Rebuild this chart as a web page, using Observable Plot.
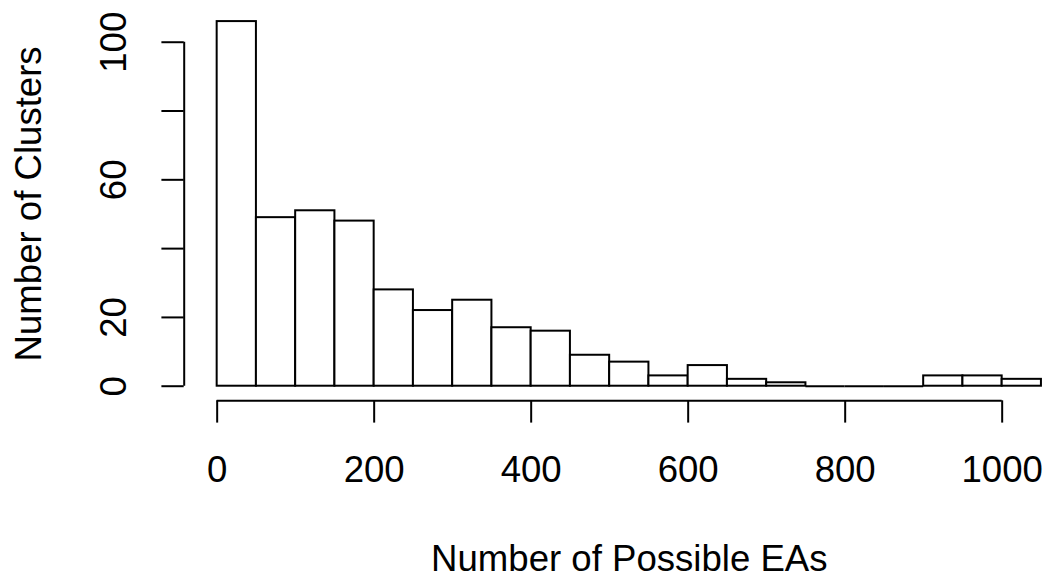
<!DOCTYPE html>
<html><head><meta charset="utf-8">
<script src="https://cdn.jsdelivr.net/npm/d3@7"></script>
<script src="https://cdn.jsdelivr.net/npm/@observablehq/plot@0.6"></script>
<style>
body{margin:0;background:#fff;}
#chart svg{display:block;}
</style>
</head><body><div id="chart"></div>
<script>
// Histogram bins (left and right edges) and counts
const binLo = [0,50,100,150,200,250,300,350,400,450,500,550,600,650,700,750,800,850,900,950,1000];
const binHi = [50,100,150,200,250,300,350,400,450,500,550,600,650,700,750,800,850,900,950,1000,1050];
const counts = [106,49,51,48,28,22,25,17,16,9,7,3,6,2,1,0,0,0,3,3,2];

const xTicks = [0,200,400,600,800,1000];
const xTickLabels = ["0","200","400","600","800","1000"];
const yTicks = [0,20,40,60,80,100];
const yTickLabels = ["0","20","","60","","100"];

const xTitle = "Number of Possible EAs";
const yTitle = "Number of Clusters";

const bins = binLo.map((lo, i) => ({lo, hi: binHi[i], n: counts[i]}));
const zeroBins = bins.filter(d => d.n === 0);

// R-style 4% axis extension
const xMin = d3.min(binLo), xMax = d3.max(binHi);
const yMax = d3.max(counts);
const xPad = 0.04 * (xMax - xMin), yPad = 0.04 * yMax;
const xLo = xMin - xPad, xHi = xMax + xPad;
const yLo = -yPad, yHi = yMax + yPad;

const FONT = "'Liberation Sans', Arial, Helvetica, sans-serif";
const FS = 36.6;
const TICK = 22.3;
const LW = 2;

const chart = Plot.plot({
  width: 1047,
  height: 577,
  marginLeft: 183.7,
  marginRight: 0,
  marginTop: 6.5,
  marginBottom: 176.7,
  style: {fontFamily: FONT, fontSize: FS + "px", color: "black", background: "white", overflow: "visible"},
  x: {domain: [xLo, xHi], range: [183.7, 1073.9]},
  y: {domain: [yLo, yHi]},
  marks: [
    Plot.rectY(bins, {x1: "lo", x2: "hi", y1: 0, y2: "n", fill: "white", stroke: "black", strokeWidth: LW}),
    Plot.ruleY(zeroBins, {x1: "lo", x2: "hi", y: 0, stroke: "black", strokeWidth: LW}),
    // x axis
    Plot.ruleY([yLo], {x1: d3.min(xTicks), x2: d3.max(xTicks), stroke: "black", strokeWidth: LW}),
    Plot.axisX(xTicks, {
      anchor: "bottom", tickSize: TICK, tickPadding: 33.0, strokeWidth: LW,
      tickFormat: (d) => xTickLabels[xTicks.indexOf(d)],
      fontSize: FS, label: null
    }),
    // y axis
    Plot.ruleX([xLo], {y1: d3.min(yTicks), y2: d3.max(yTicks), stroke: "black", strokeWidth: LW}),
    Plot.axisY(yTicks, {
      anchor: "left", tickSize: TICK, tickPadding: 35.5, tickRotate: -90, strokeWidth: LW,
      tickFormat: (d) => yTickLabels[yTicks.indexOf(d)],
      fontSize: FS, label: null
    }),
    // titles
    Plot.text([xTitle], {x: (xLo + xHi) / 2, y: yLo, dy: 169.7, lineAnchor: "bottom", textAnchor: "middle", fontSize: FS, fill: "black"}),
    Plot.text([yTitle], {frameAnchor: "left", dx: -143, rotate: -90, lineAnchor: "bottom", textAnchor: "middle", fontSize: FS, fill: "black"})
  ]
});
document.getElementById("chart").appendChild(chart);
</script>
</body></html>
